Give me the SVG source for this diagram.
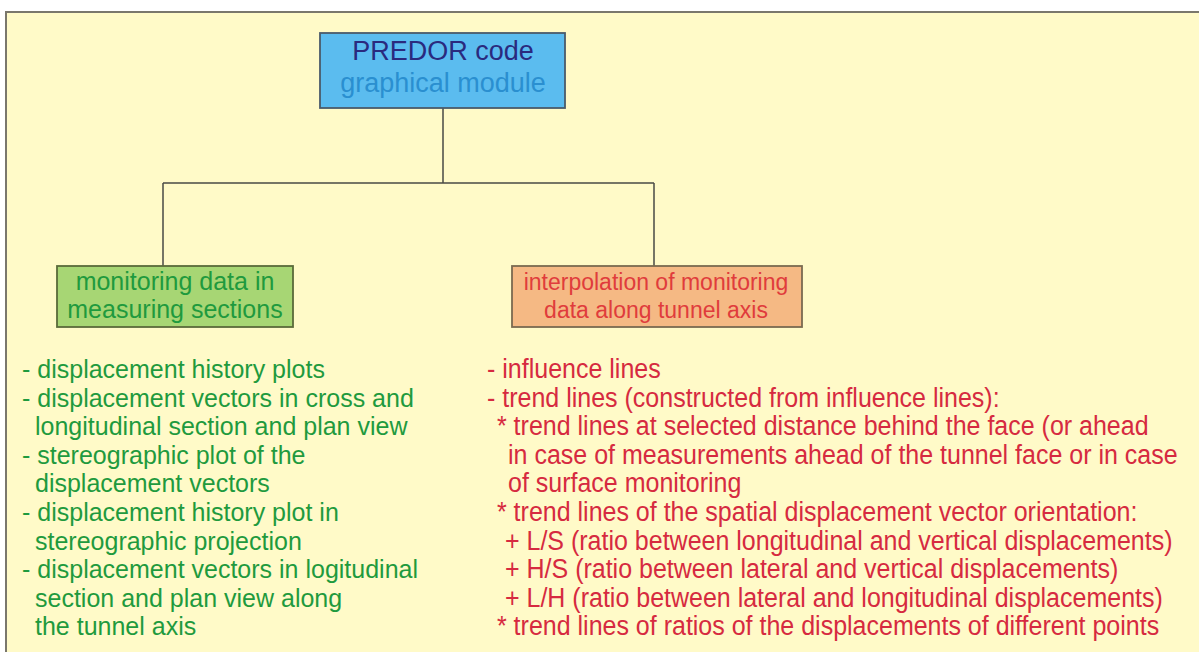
<svg xmlns="http://www.w3.org/2000/svg" width="1199" height="652" viewBox="0 0 1199 652">
<style>
.frame{fill:#fffac8;stroke:#7a776c;stroke-width:2}
.box{stroke-width:1.8}
.conn{fill:none;stroke:#4a4a44;stroke-width:1.5}
text{font-family:"Liberation Sans",Arial,sans-serif}
.top1{font-size:27px;fill:#2a2a7e}
.top2{font-size:27px;fill:#2a8fd0}
.grn{font-size:25px;fill:#1f9a3e}
.red{font-size:23px;fill:#e03c3c}
.lst{font-size:25px;fill:#1f9a3e}
.rlst{font-size:28px;fill:#d62a40}
</style>
<rect x="0" y="0" width="1199" height="652" fill="#ffffff"/>
<rect class="frame" x="6" y="12" width="1200" height="650"/>
<g id="connectors">
<path class="conn" d="M443,108 V183 M163,183 H654 M163,183 V266 M654,183 V266"/>
</g>
<g id="node-predor">
<rect class="box" x="320" y="33" width="245" height="75" fill="#5bbcef" stroke="#4a5a6a"/>
<text class="top1" x="443" y="60" text-anchor="middle">PREDOR code</text>
<text class="top2" x="443" y="92" text-anchor="middle">graphical module</text>
</g>
<g id="node-monitoring">
<rect class="box" x="57" y="266" width="236" height="61" fill="#a7d674" stroke="#5a6a3a"/>
<text class="grn" x="175" y="290" text-anchor="middle">monitoring data in</text>
<text class="grn" x="175" y="318" text-anchor="middle">measuring sections</text>
</g>
<g id="node-interpolation">
<rect class="box" x="512" y="266" width="290" height="61" fill="#f5b984" stroke="#7a6a50"/>
<text class="red" x="656" y="290" text-anchor="middle">interpolation of monitoring</text>
<text class="red" x="656" y="318" text-anchor="middle">data along tunnel axis</text>
</g>
<g id="list-monitoring" class="lst">
<text class="lst" x="22" y="378">- displacement history plots</text>
<text class="lst" x="22" y="406.6">- displacement vectors in cross and</text>
<text class="lst" x="35" y="435.2">longitudinal section and plan view</text>
<text class="lst" x="22" y="463.8">- stereographic plot of the</text>
<text class="lst" x="35" y="492.4">displacement vectors</text>
<text class="lst" x="22" y="521">- displacement history plot in</text>
<text class="lst" x="35" y="549.6">stereographic projection</text>
<text class="lst" x="22" y="578.2">- displacement vectors in logitudinal</text>
<text class="lst" x="35" y="606.8">section and plan view along</text>
<text class="lst" x="35" y="635.4">the tunnel axis</text>
</g>
<g id="list-interpolation" transform="scale(0.893,1)">
<text class="rlst" x="545.4" y="378">- influence lines</text>
<text class="rlst" x="545.4" y="406.6">- trend lines (constructed from influence lines):</text>
<text class="rlst" x="556.5" y="435.2">* trend lines at selected distance behind the face (or ahead</text>
<text class="rlst" x="568.9" y="463.8">in case of measurements ahead of the tunnel face or in case</text>
<text class="rlst" x="568.9" y="492.4">of surface monitoring</text>
<text class="rlst" x="556.5" y="521">* trend lines of the spatial displacement vector orientation:</text>
<text class="rlst" x="565.5" y="549.6">+ L/S (ratio between longitudinal and vertical displacements)</text>
<text class="rlst" x="565.5" y="578.2">+ H/S (ratio between lateral and vertical displacements)</text>
<text class="rlst" x="565.5" y="606.8">+ L/H (ratio between lateral and longitudinal displacements)</text>
<text class="rlst" x="556.5" y="635.4">* trend lines of ratios of the displacements of different points</text>
</g>
</svg>
